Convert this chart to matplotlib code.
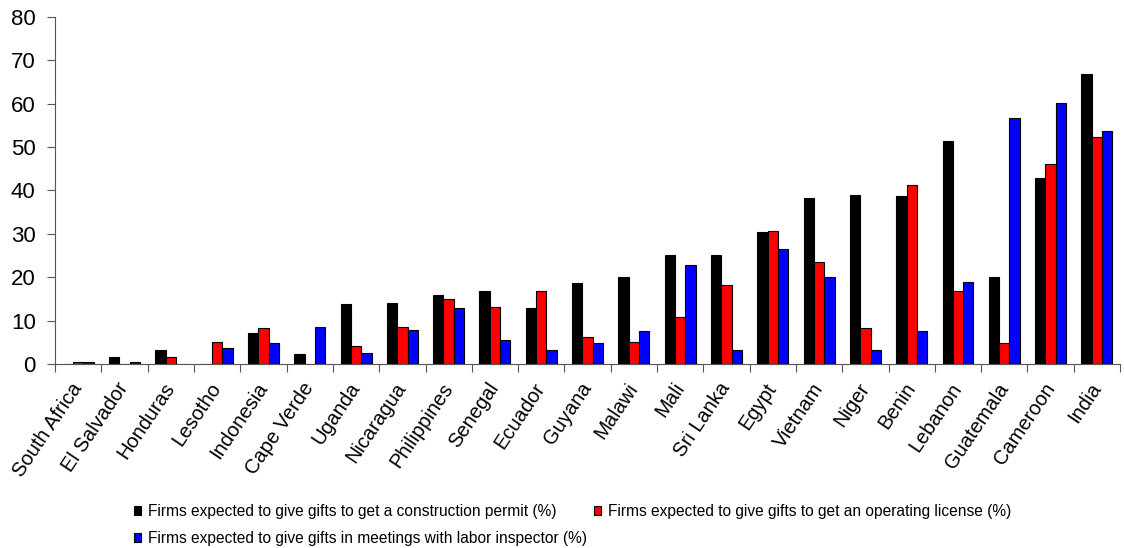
import numpy as np
import matplotlib
matplotlib.use("Agg")
import matplotlib.pyplot as plt

plt.rcParams['font.family'] = ['Liberation Sans', 'DejaVu Sans']

countries = ["South Africa", "El Salvador", "Honduras", "Lesotho", "Indonesia",
             "Cape Verde", "Uganda", "Nicaragua", "Philippines", "Senegal",
             "Ecuador", "Guyana", "Malawi", "Mali", "Sri Lanka", "Egypt",
             "Vietnam", "Niger", "Benin", "Lebanon", "Guatemala", "Cameroon",
             "India"]

construction = [0.0, 1.7, 3.1, 0.0, 7.1, 2.3, 13.7, 14.0, 15.9, 16.8, 12.8,
                18.7, 20.1, 25.1, 25.1, 30.4, 38.2, 39.0, 38.7, 51.5, 20.1,
                42.8, 66.9]
operating = [0.5, 0.0, 1.6, 5.0, 8.3, 0.0, 4.1, 8.6, 15.0, 13.1, 16.9,
             6.1, 5.0, 10.8, 18.1, 30.7, 23.6, 8.3, 41.3, 16.7, 4.7,
             46.2, 52.4]
labor = [0.5, 0.5, 0.0, 3.6, 4.8, 8.6, 2.5, 7.8, 12.8, 5.6, 3.1,
         4.8, 7.5, 22.8, 3.1, 26.4, 20.1, 3.3, 7.5, 18.9, 56.6,
         60.2, 53.7]

series_labels = ["Firms expected to give gifts to get a construction permit (%)",
                 "Firms expected to give gifts to get an operating license (%)",
                 "Firms expected to give gifts in meetings with labor inspector (%)"]
colors = ["#000000", "#ff0000", "#0000ff"]

fig = plt.figure(figsize=(11.24, 5.48), dpi=100)
ax = fig.add_axes([0.049, 0.336, 0.9475, 0.633])

x = np.arange(len(countries))
w = 0.223
bars = []
for i, (vals, c, lab) in enumerate(zip([construction, operating, labor], colors, series_labels)):
    b = ax.bar(x + (i - 1) * w, vals, width=w, color=c, edgecolor='black',
               linewidth=0.8, label=lab)
    bars.append(b)

ax.set_xlim(-0.5, len(countries) - 0.5)
ax.set_ylim(0, 80)
ax.set_yticks(range(0, 81, 10))
ax.tick_params(axis='y', labelsize=16, length=6, pad=8, direction='out', color='#555555')

# ticks sit between the groups, labels under the group centres
ax.set_xticks(np.arange(-0.5, len(countries), 1), minor=False)
ax.set_xticklabels([])
ax.set_xticks(x, minor=True)
ax.set_xticklabels(countries, minor=True, rotation=56, ha='right', va='center',
                   rotation_mode='anchor', fontsize=14.5)
ax.tick_params(axis='x', which='minor', length=0, pad=15)
ax.tick_params(axis='x', which='major', length=6, color='#555555')

for s in ['top', 'right']:
    ax.spines[s].set_visible(False)
ax.spines['left'].set_color('#555555')
ax.spines['bottom'].set_color('#555555')

handles = [bars[0], bars[2], bars[1]]
labels = [series_labels[0], series_labels[2], series_labels[1]]
fig.legend(handles, labels, loc='upper left', bbox_to_anchor=(0.112, 0.095),
           ncol=2, frameon=False, fontsize=11.2, handlelength=0.45,
           handleheight=0.55, handletextpad=0.45, columnspacing=0.5,
           labelspacing=0.8, borderpad=0)

fig.savefig("out.png", dpi=100)
